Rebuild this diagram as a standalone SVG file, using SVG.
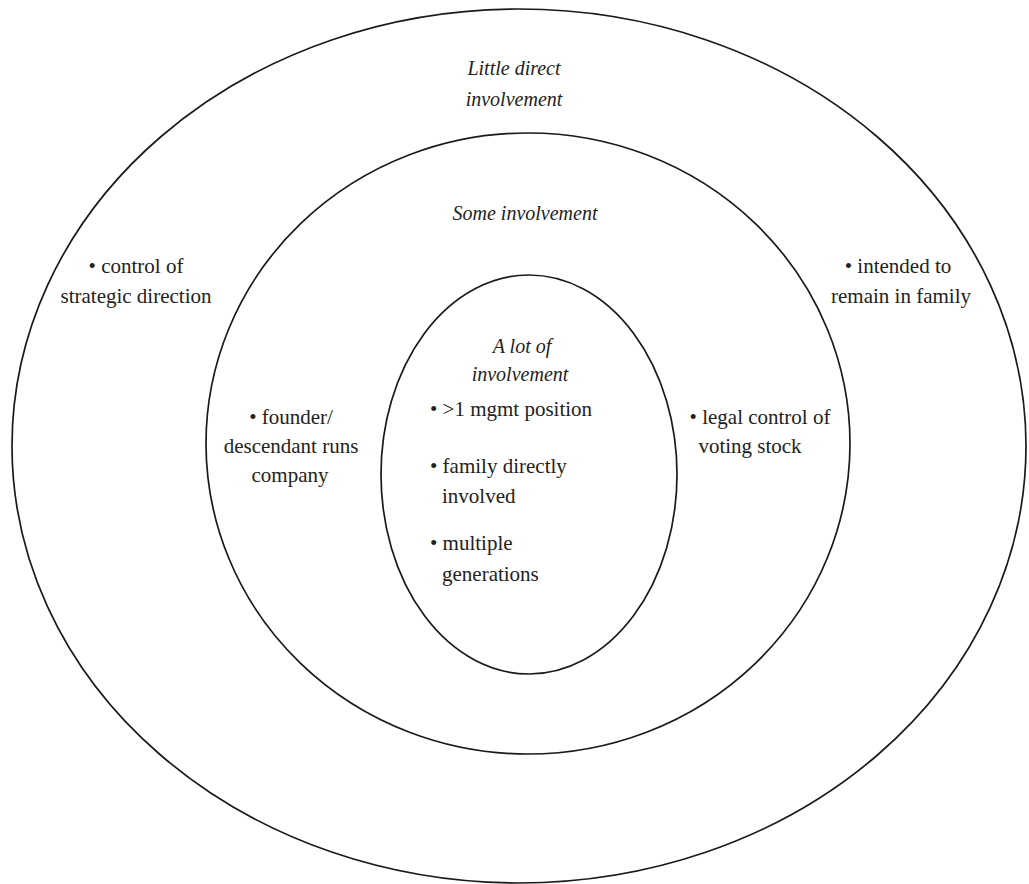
<svg xmlns="http://www.w3.org/2000/svg" width="1029" height="884" viewBox="0 0 1029 884">
  <style>
    .ring { fill: none; stroke: #1a1a1a; stroke-width: 1.7; }
    .lbl { font-family: "Liberation Serif", "Times New Roman", serif; font-size: 21px; fill: #222; }
    .head { font-family: "Liberation Serif", "Times New Roman", serif; font-size: 20px; font-style: italic; fill: #222; }
    .mid { text-anchor: middle; }
  </style>
  <rect width="1029" height="884" fill="#ffffff"/>

  <!-- Outer ring: little direct involvement -->
  <g id="outer">
    <ellipse class="ring" cx="519" cy="446" rx="507" ry="437"/>
    <text class="head mid" x="514" y="75">Little direct</text>
    <text class="head mid" x="514" y="106">involvement</text>
    <text class="lbl mid" x="136" y="273">• control of</text>
    <text class="lbl mid" x="136" y="303">strategic direction</text>
    <text class="lbl mid" x="898" y="273">• intended to</text>
    <text class="lbl mid" x="901" y="303">remain in family</text>
  </g>

  <!-- Middle ring: some involvement -->
  <g id="middle">
    <ellipse class="ring" cx="528" cy="443.5" rx="322" ry="310.5"/>
    <text class="head mid" x="525" y="220">Some involvement</text>
    <text class="lbl mid" x="291" y="424">• founder/</text>
    <text class="lbl mid" x="291" y="453">descendant runs</text>
    <text class="lbl mid" x="290" y="482">company</text>
    <text class="lbl mid" x="760" y="424">• legal control of</text>
    <text class="lbl mid" x="750" y="453">voting stock</text>
  </g>

  <!-- Inner ring: a lot of involvement -->
  <g id="inner">
    <ellipse class="ring" cx="529" cy="474.5" rx="148" ry="199.5"/>
    <text class="head mid" x="522" y="353">A lot of</text>
    <text class="head mid" x="520" y="381">involvement</text>
    <text class="lbl" x="430" y="416">• &gt;1 mgmt position</text>
    <text class="lbl" x="430" y="473">• family directly</text>
    <text class="lbl" x="442" y="503">involved</text>
    <text class="lbl" x="430" y="550">• multiple</text>
    <text class="lbl" x="442" y="581">generations</text>
  </g>

  <!-- No connectors in this figure -->
  <g id="connectors"/>
</svg>
